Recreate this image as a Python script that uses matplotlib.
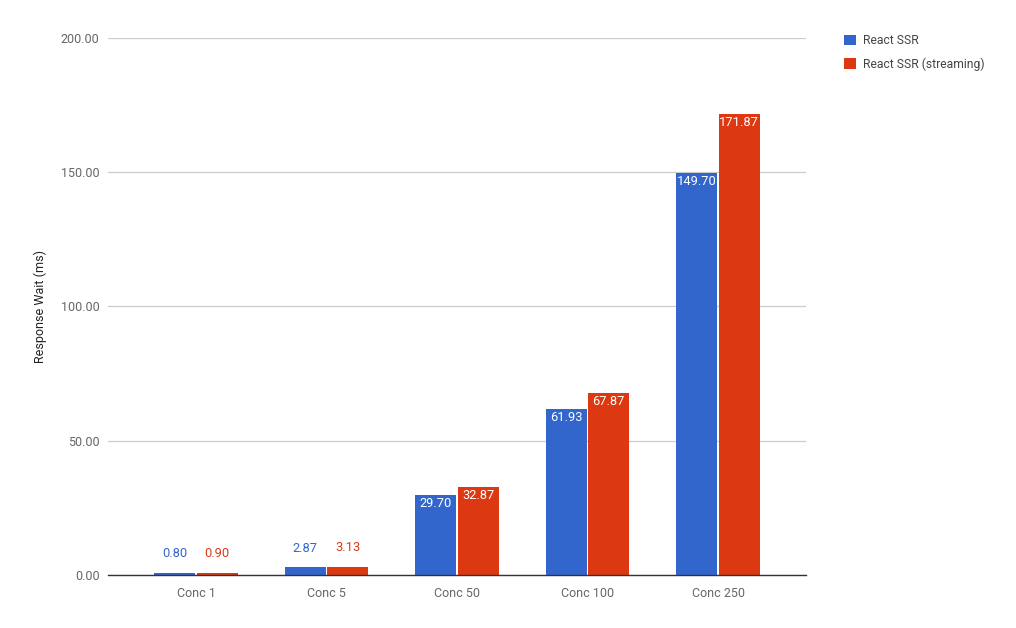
import matplotlib
matplotlib.use("Agg")
import matplotlib.pyplot as plt
import numpy as np
from matplotlib.patches import Patch

categories = ["Conc 1", "Conc 5", "Conc 50", "Conc 100", "Conc 250"]
ssr = [0.80, 2.87, 29.70, 61.93, 149.70]
ssr_streaming = [0.90, 3.13, 32.87, 67.87, 171.87]
series_names = ["React SSR", "React SSR (streaming)"]
yticks = [0, 50, 100, 150, 200]

BLUE = "#3366CC"
RED = "#DC3912"

plt.rcParams["font.family"] = ["Roboto", "DejaVu Sans"]

fig = plt.figure(figsize=(10.16, 6.28), dpi=100)
ax = fig.add_axes([0.1063, 0.0844, 0.6870, 0.8551])

x = np.arange(len(categories))
width = 0.313
offset = 0.163
for vals, color, sign in [(ssr, BLUE, -1), (ssr_streaming, RED, 1)]:
    bars = ax.bar(x + sign * offset, vals, width, color=color, zorder=3)
    for bar, v in zip(bars, vals):
        cx = bar.get_x() + bar.get_width() / 2
        if v > 20:
            # big bars carry a white label just inside the top
            ax.annotate(f"{v:.2f}", (cx, v), xytext=(0, -1.5), textcoords="offset points",
                        ha="center", va="top", color="white", fontsize=9.3, zorder=4)
        else:
            ax.annotate(f"{v:.2f}", (cx, v), xytext=(0, 9), textcoords="offset points",
                        ha="center", va="bottom", color=color, fontsize=9.3, zorder=4)

ax.set_xlim(-0.674, len(categories) - 1 + 0.674)
ax.set_ylim(0, 200)
ax.set_yticks(yticks)
ax.set_yticklabels([f"{t:.2f}" for t in yticks])
ax.set_xticks(x)
ax.set_xticklabels(categories)
ax.tick_params(axis="both", length=0, colors="#666666", labelsize=9)
ax.tick_params(axis="y", pad=6)
ax.tick_params(axis="x", pad=9)
ax.grid(axis="y", color="#CCCCCC", linewidth=0.9, zorder=0)
for side in ["top", "right", "left"]:
    ax.spines[side].set_visible(False)
ax.spines["bottom"].set_color("#333333")
ax.spines["bottom"].set_linewidth(1.0)
ax.spines["bottom"].set_zorder(5)
ax.set_ylabel("Response Wait (ms)", fontsize=9, color="#222222", labelpad=10)

handles = [Patch(facecolor=BLUE, label=series_names[0]),
           Patch(facecolor=RED, label=series_names[1])]
fig.legend(handles=handles, loc="upper left", bbox_to_anchor=(0.82, 0.963), frameon=False,
           fontsize=8.7, labelcolor="#444444", handlelength=1.0, handleheight=1.0,
           handletextpad=0.6, labelspacing=0.85)

fig.savefig("out.png", dpi=100, facecolor="white")
